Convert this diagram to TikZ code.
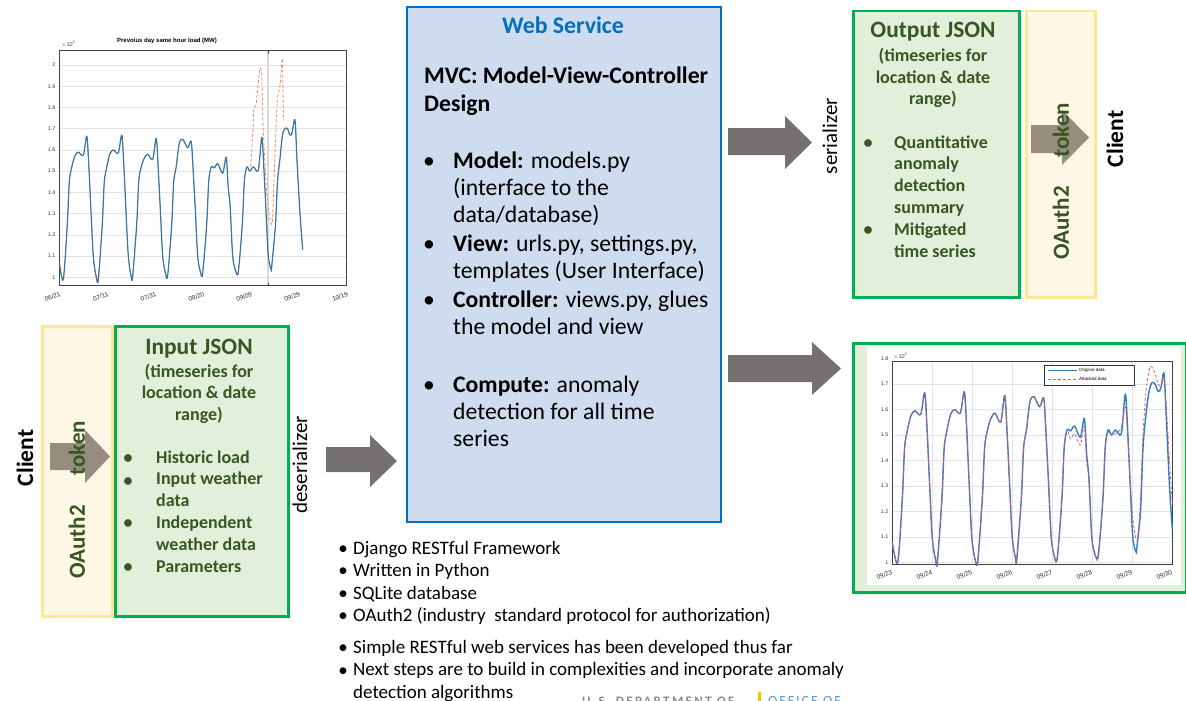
\documentclass[tikz,border=0pt]{standalone}
\usepackage{fontspec}
\setmainfont{Carlito}
\newfontfamily\chartfont{Liberation Sans}
\definecolor{wsfill}{HTML}{CFDCEF}
\definecolor{wsline}{HTML}{0070C0}
\definecolor{gfill}{HTML}{E2EFDA}
\definecolor{gline}{HTML}{00B050}
\definecolor{gtext}{HTML}{375623}
\definecolor{yfill}{HTML}{FFF7E5}
\definecolor{yline}{HTML}{FFE699}
\definecolor{arrowgray}{HTML}{767171}
\definecolor{tokgray}{HTML}{978D7E}
\definecolor{mblue}{HTML}{2C7FC6}
\definecolor{mred}{HTML}{F0505F}
\definecolor{morange}{HTML}{EF8A62}
\definecolor{gridc}{HTML}{E3E3E3}
\definecolor{doegray}{HTML}{8C8C8C}
\definecolor{doeblue}{HTML}{5B9BD5}
\definecolor{doeyellow}{HTML}{F2C500}

\newcommand\fsz[1]{\fontsize{#1}{#1}\selectfont}
% one node per text line: #1 options, #2 name prefix, #3 x, #4 first baseline, #5 line step, #6 lines
\newcommand\textlines[6]{%
  \foreach \t [count=\i from 0] in {#6}{%
    \node[anchor=base west, inner sep=0, #1] (#2\i) at (#3,{#4+\i*#5}) {\t};}}
% block arrow: #1 name, #2 colour, #3 x start, #4 x head base, #5 x tip, #6/#7 shaft top/bottom, #8/#9 head top/bottom
\newcommand\blockarrow[9]{%
  \coordinate (#1) at ({(#3+#5)/2},{(#6+#7)/2});
  \fill[#2] (#3,#6) -- (#4,#6) -- (#4,#8) -- (#5,{(#8+#9)/2}) -- (#4,#9) -- (#4,#7) -- (#3,#7) -- cycle;}
% one day of the load curve: #1 start x, #2 minimum, #3 morning hump, #4 dip, #5 evening peak; \s = day width factor
\def\dayload#1#2#3#4#5{(#1,#2) ({#1+4*\s},1.25) ({#1+6*\s},1.45) ({#1+8.5*\s},1.52) ({#1+11.5*\s},{#3-0.02}) ({#1+15*\s},#3) ({#1+20*\s},#4) ({#1+23.5*\s},#5) ({#1+25.5*\s},{#5-0.14}) ({#1+27.5*\s},1.33) ({#1+30*\s},1.1) ({#1+33*\s},{#2+0.01}) }

\begin{document}
\begin{tikzpicture}[x=1pt,y=-1pt,
  wsbox/.style={rectangle, draw=wsline, line width=2pt, fill=wsfill, anchor=north west, inner sep=0},
  jsonbox/.style={rectangle, draw=gline, line width=2.5pt, fill=gfill, anchor=north west, inner sep=0},
  authbox/.style={rectangle, draw=yline, line width=2.5pt, fill=yfill, anchor=north west, inner sep=0},
  dot/.style={anchor=base, inner sep=0},
  vlabel/.style={rotate=90, inner sep=0},
  tick/.style={font=\chartfont\fsz{5.3}, inner sep=0.5pt, text=black!80},
  xtick/.style={font=\chartfont\fsz{6.5}, inner sep=0, anchor=north east, rotate=22, text=black!80},
  axisline/.style={draw=black!75, line width=0.7pt},
]
\useasboundingbox[fill=white] (0,0) rectangle (1186,701);

% ---------------- main boxes ----------------
\node[wsbox, minimum width=314, minimum height=515] (ws) at (406,6) {};
\node[jsonbox, minimum width=173, minimum height=290] (injson) at (114,325) {};
\node[authbox, minimum width=70, minimum height=290] (inauth) at (41,325) {};
\node[jsonbox, minimum width=166, minimum height=286] (outjson) at (852,10) {};
\node[authbox, minimum width=69, minimum height=286] (outauth) at (1025,10) {};
\node[jsonbox, minimum width=333, minimum height=249, line width=2.5pt] (resbox) at (852,342) {};
\node[rectangle, fill=white, anchor=north west, inner sep=0, minimum width=314, minimum height=238] (resfig) at (867,347) {};

% ---------------- web service text ----------------
\node[anchor=base, inner sep=0, font=\bfseries\fsz{23.8}, text=wsline] (wstitle) at (563,34) {Web Service};
\textlines{font=\bfseries\fsz{23.7}}{mvc}{424}{83}{28}{{MVC: Model-View-Controller},{Design}}
\begin{scope}[every node/.append style={font=\fsz{23.7}}]
  \foreach \yy [count=\k] in {168,251,307,392} \node[dot] (wsdot\k) at (429,\yy) {\textbullet};
  \textlines{}{wsa}{453}{168}{27}{{\textbf{Model:} models.py},{(interface to the},{data/database)}}
  \textlines{}{wsb}{453}{251}{27}{{\textbf{View:} urls.py, settings.py,},{templates (User Interface)}}
  \textlines{}{wsc}{453}{307}{27}{{\textbf{Controller:} views.py, glues},{the model and view}}
  \textlines{}{wsd}{453}{392}{27}{{\textbf{Compute:} anomaly},{detection for all time},{series}}
\end{scope}

% ---------------- input JSON ----------------
\node[anchor=base, inner sep=0, font=\bfseries\fsz{23.4}, text=gtext] (intitle) at (199,354) {Input JSON};
\textlines{anchor=base, font=\bfseries\fsz{18}, text=gtext}{insub}{199}{377}{21.5}{{(timeseries for},{location \& date},{range)}}
\begin{scope}[every node/.append style={font=\bfseries\fsz{18}, text=gtext}]
  \foreach \yy [count=\k] in {463,486,528,572} \node[dot] (indot\k) at (128,\yy) {\textbullet};
  \textlines{}{inl}{156}{463}{21.8}{{Historic load},{Input weather},{data},{Independent},{weather data},{Parameters}}
\end{scope}

% ---------------- output JSON ----------------
\node[anchor=base, inner sep=0, font=\bfseries\fsz{23.4}, text=gtext] (outtitle) at (933,38) {Output JSON};
\textlines{anchor=base, font=\bfseries\fsz{18}, text=gtext}{outsub}{933}{62}{21}{{(timeseries for},{location \& date},{range)}}
\begin{scope}[every node/.append style={font=\bfseries\fsz{18}, text=gtext}]
  \foreach \yy [count=\k] in {148,235} \node[dot] (outdot\k) at (868,\yy) {\textbullet};
  \textlines{}{outl}{894}{148}{21.8}{{Quantitative},{anomaly},{detection},{summary},{Mitigated},{time series}}
\end{scope}

% ---------------- arrows ----------------
\blockarrow{intok}{tokgray}{50}{85}{110}{443}{470}{430}{483}
\blockarrow{outtok}{tokgray}{1031}{1062}{1089}{125}{153}{110}{165}
\blockarrow{deser}{arrowgray}{326}{370}{397}{447}{472}{435}{487}
\blockarrow{ser}{arrowgray}{728}{785}{812}{128}{155}{116}{169}
\blockarrow{tores}{arrowgray}{728}{812}{841}{355}{382}{342}{395}

% ---------------- rotated labels ----------------
\node[vlabel, font=\bfseries\fsz{23}, text=gtext] (intoken) at (77,448) {token};
\node[vlabel, font=\bfseries\fsz{23}, text=gtext] (inoauth) at (77,542) {OAuth2};
\node[vlabel, font=\bfseries\fsz{23.5}] (inclient) at (25,458) {Client};
\node[vlabel, font=\fsz{21}] (deserlbl) at (300,465) {deserializer};
\node[vlabel, font=\fsz{21}] (serlbl) at (830,136) {serializer};
\node[vlabel, font=\bfseries\fsz{23}, text=gtext] (outtoken) at (1061,130) {token};
\node[vlabel, font=\bfseries\fsz{23}, text=gtext] (outoauth) at (1061,223) {OAuth2};
\node[vlabel, font=\bfseries\fsz{23.5}] (outclient) at (1115,139) {Client};

% ---------------- notes below the web service ----------------
\begin{scope}[every node/.append style={font=\fsz{19}}]
  \foreach \yy [count=\k] in {554,576.5,599,621.5,653.5,676} \node[dot] (ndot\k) at (343,\yy) {\textbullet};
  \textlines{}{na}{353}{554}{22.5}{{Django RESTful Framework},{Written in Python},{SQLite database},{OAuth2 (industry\ \ standard protocol for authorization)}}
  \textlines{}{nb}{353}{653.5}{22.3}{{Simple RESTful web services has been developed thus far},{Next steps are to build in complexities and incorporate anomaly},{detection algorithms}}
\end{scope}

% department banner along the lower edge
\begin{scope}
  \clip (0,0) rectangle (1186,701);
  \node[anchor=base west, inner sep=0, font=\bfseries\fsz{13}, text=doegray] (doe) at (582,705.5) {\addfontfeatures{LetterSpace=18}U.S. DEPARTMENT OF};
  \node[anchor=base west, inner sep=0, font=\fsz{14}, text=doeblue] (office) at (768,705.5) {\addfontfeatures{LetterSpace=14}OFFICE OF};
  \fill[doeyellow] (758,692) rectangle (760.5,701);
\end{scope}

% ---------------- load chart (top left) ----------------
\node[anchor=base, inner sep=0, font=\chartfont\bfseries\fsz{6}] (c1title) at (167,43) {Prevoius day same hour load (MW)};
\node[anchor=base west, inner sep=0, font=\chartfont\fsz{5.5}, text=black!75] (c1exp) at (61,47) {$\times$10\raisebox{3pt}{\fsz{4}4}};
\begin{scope}[shift={(0,489.6)}, y=212.3pt]
  \foreach \k in {0,...,10} \draw[gridc, line width=0.6pt] (59.3,{1+\k/10}) -- (346.7,{1+\k/10});
  \draw[black!15, line width=2pt] (268,0.96) -- (268,2.067);
  \draw[black!70, line width=0.6pt] (268,0.96) -- (268,0.975) (268,2.067) -- (268,2.052);
  \draw[axisline] (59.3,0.96) rectangle (346.7,2.067);
  \foreach \k/\l in {0/1,1/1.1,2/1.2,3/1.3,4/1.4,5/1.5,6/1.6,7/1.7,8/1.8,9/1.9,10/2}
    \node[tick, anchor=east] (c1y\k) at (56,{1+\k/10}) {\l};
  \foreach \l [count=\k from 0] in {06/21,07/11,07/31,08/20,09/09,09/29,10/19}
    \node[xtick] (c1x\k) at ({59.3+\k*47.9},0.935) {\l};
  \def\s{1}
  \edef\drawload{\noexpand\draw[mblue, line width=1.2pt, line join=round] plot[smooth, tension=0.5] coordinates {(59.3,1.07)
    \dayload{63.3}{0.99}{1.59}{1.575}{1.665}
    \dayload{98.3}{0.99}{1.60}{1.585}{1.67}
    \dayload{132.7}{1.005}{1.58}{1.555}{1.655}
    \dayload{167.7}{1.01}{1.65}{1.61}{1.64}
    \dayload{202.7}{1.02}{1.535}{1.49}{1.565}
    \dayload{238.3}{1.025}{1.52}{1.505}{1.66}
    (271.7,1.05) (275.5,1.25) (277.5,1.45) (280,1.56) (282.5,1.67) (285,1.70) (287.5,1.70) (290,1.67) (292,1.68) (295,1.74) (297,1.55) (300,1.3) (302.7,1.13)};}
  \drawload
  \edef\drawload{\noexpand\draw[black!60, line width=0.4pt, line join=round] plot[smooth, tension=0.5] coordinates {(59.3,1.07)
    \dayload{63.3}{0.99}{1.59}{1.575}{1.665}
    \dayload{98.3}{0.99}{1.60}{1.585}{1.67}
    \dayload{132.7}{1.005}{1.58}{1.555}{1.655}
    \dayload{167.7}{1.01}{1.65}{1.61}{1.64}
    \dayload{202.7}{1.02}{1.535}{1.49}{1.565}
    \dayload{238.3}{1.025}{1.52}{1.505}{1.66}
    (271.7,1.05) (275.5,1.25) (277.5,1.45) (280,1.56) (282.5,1.67) (285,1.70) (287.5,1.70) (290,1.67) (292,1.68) (295,1.74) (297,1.55) (300,1.3) (302.7,1.13)};}
  \drawload
  \draw[morange, line width=0.8pt, dash pattern=on 3pt off 2pt] plot[smooth, tension=0.3] coordinates {(250.7,1.52) (253,1.70) (254,1.80) (256,1.81) (258,1.9) (260,1.985) (261.7,1.96) (263.3,1.69) (266.7,1.40) (269.3,1.29) (272.3,1.255) (275,1.585) (277.3,1.835) (280,1.9) (282.3,2.03) (283.5,1.74)};
\end{scope}

% ---------------- original vs attacked chart (bottom right) ----------------
\node[anchor=base west, inner sep=0, font=\chartfont\fsz{5.5}, text=black!75] (c2exp) at (893,358) {$\times$10\raisebox{3pt}{\fsz{4}4}};
\begin{scope}[shift={(0,818.2)}, y=255.5pt]
  \foreach \k in {0,...,7} \draw[gridc, line width=0.6pt] (892.3,{1+\k/10}) -- (1172.3,{1+\k/10});
  \foreach \k in {1,...,6} \draw[gridc, line width=0.6pt] ({892.3+\k*40},0.995) -- ({892.3+\k*40},1.79);
  \draw[axisline] (892.3,0.995) rectangle (1172.3,1.79);
  \foreach \k/\l in {0/1,1/1.1,2/1.2,3/1.3,4/1.4,5/1.5,6/1.6,7/1.7,8/1.8}
    \node[tick, anchor=east] (c2y\k) at (889,{1+\k/10}) {\l};
  \foreach \l [count=\k from 0] in {09/23,09/24,09/25,09/26,09/27,09/28,09/29,09/30}
    \node[xtick] (c2x\k) at ({891+\k*40},0.975) {\l};
  \def\s{1.15}
  \edef\drawload{\noexpand\draw[mblue, line width=1.4pt, line join=round] plot[smooth, tension=0.5] coordinates {(892.3,1.08)
    \dayload{897.7}{1.0}{1.595}{1.58}{1.665}
    \dayload{937.3}{1.0}{1.60}{1.585}{1.67}
    \dayload{977.7}{1.005}{1.585}{1.55}{1.655}
    \dayload{1016.7}{1.01}{1.65}{1.61}{1.645}
    \dayload{1057.3}{1.02}{1.535}{1.49}{1.565}
    \dayload{1098.3}{1.03}{1.52}{1.505}{1.66}
    (1136.7,1.055) (1140.5,1.2) (1143,1.45) (1146,1.58) (1149,1.67) (1152,1.705) (1155,1.70) (1158.3,1.67) (1161,1.685) (1164,1.74) (1166.5,1.55) (1169.5,1.3) (1172.3,1.13)};}
  \drawload
  \edef\drawload{\noexpand\draw[mred, line width=0.75pt, dash pattern=on 3pt off 2pt, line join=round] plot[smooth, tension=0.5] coordinates {(892.3,1.08)
    \dayload{897.7}{1.0}{1.595}{1.58}{1.665}
    \dayload{937.3}{1.0}{1.60}{1.585}{1.67}
    \dayload{977.7}{1.005}{1.585}{1.55}{1.655}
    \dayload{1016.7}{1.01}{1.65}{1.61}{1.645}
    \dayload{1057.3}{1.02}{1.505}{1.46}{1.535}
    (1098.3,1.02) (1102.9,1.25) (1105.2,1.45) (1108,1.51) (1111.5,1.50) (1115.5,1.505) (1121.3,1.53) (1125.3,1.61) (1127.6,1.50) (1130,1.33) (1133.5,1.15) (1137.3,1.09)
    (1140.5,1.25) (1143,1.50) (1146,1.67) (1149.5,1.76) (1152,1.765) (1155,1.74) (1158.3,1.70) (1161,1.69) (1163.5,1.73) (1166.5,1.6) (1169.5,1.4) (1172.3,1.23)};}
  \drawload
\end{scope}
% legend
\node[rectangle, draw=black!80, line width=0.6pt, fill=white, anchor=north west, minimum width=90, minimum height=20, inner sep=0] (legend) at (1044,365) {};
\draw[mblue, line width=1.4pt] (1048,370.7) -- (1077,370.7);
\draw[mred, line width=0.75pt, dash pattern=on 3pt off 2pt] (1048,379.3) -- (1077,379.3);
\node[anchor=west, inner sep=0, font=\chartfont\fsz{4.5}] (legorig) at (1079,370.7) {Original data};
\node[anchor=west, inner sep=0, font=\chartfont\fsz{4.5}] (legatt) at (1079,379.3) {Attacked data};

\end{tikzpicture}
\end{document}
